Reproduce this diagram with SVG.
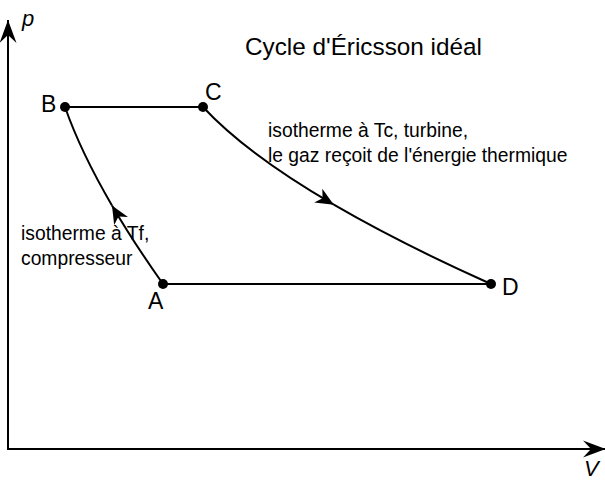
<svg xmlns="http://www.w3.org/2000/svg" width="605" height="481" viewBox="0 0 605 481">
  <style>
    .ln { fill: none; stroke: #000; stroke-width: 2; }
    .dot { fill: #000; }
    .t { font-family: "Liberation Sans", Arial, sans-serif; fill: #000; }
    .lbl { font-size: 19.3px; }
    .pt { font-size: 23px; }
    .ax { font-size: 22px; font-style: italic; }
    .title { font-size: 24.3px; }
  </style>
  <defs>
    <marker id="axArrow" viewBox="-24 -10 25 20" markerWidth="25" markerHeight="20" refX="0" refY="0" orient="auto" markerUnits="userSpaceOnUse">
      <path d="M0,0 L-23,-8.5 L-15,0 L-23,8.5 Z" fill="#000"/>
    </marker>
    <marker id="curveArrow" viewBox="-20 -10 21 20" markerWidth="21" markerHeight="20" refX="0" refY="0" orient="auto" markerUnits="userSpaceOnUse">
      <path d="M0,0 L-18,-8 L-13,0 L-18,8 Z" fill="#000"/>
    </marker>
  </defs>
  <rect width="605" height="481" fill="#fff"/>

  <g id="axes">
    <line class="ln" x1="8" y1="449" x2="8" y2="20" marker-end="url(#axArrow)"/>
    <line class="ln" x1="7" y1="449" x2="606" y2="449" marker-end="url(#axArrow)"/>
    <text class="t ax" x="22" y="26">p</text>
    <text class="t ax" x="584" y="476">V</text>
  </g>

  <g id="connectors">
    <line class="ln" x1="65" y1="107" x2="203" y2="107"/>
    <line class="ln" x1="163" y1="284" x2="491" y2="284"/>
    <path class="ln" d="M203,107 Q246.32,153.74 333.83,204.7" marker-end="url(#curveArrow)"/>
    <path class="ln" d="M333.83,204.7 Q399.84,243.15 491,284"/>
    <path class="ln" d="M163,284 Q133.73,242.59 111.98,205.38" marker-end="url(#curveArrow)"/>
    <path class="ln" d="M111.98,205.38 Q80.69,151.84 65,107"/>
  </g>

  <g id="nodeB">
    <circle class="dot" cx="65" cy="107" r="5"/>
    <text class="t pt" x="41" y="112">B</text>
  </g>
  <g id="nodeC">
    <circle class="dot" cx="203" cy="107" r="5"/>
    <text class="t pt" x="205" y="100">C</text>
  </g>
  <g id="nodeA">
    <circle class="dot" cx="163" cy="284" r="5"/>
    <text class="t pt" x="148" y="309">A</text>
  </g>
  <g id="nodeD">
    <circle class="dot" cx="491" cy="284" r="5"/>
    <text class="t pt" x="502" y="295">D</text>
  </g>

  <g id="labels">
    <text class="t title" x="245" y="55">Cycle d'Éricsson idéal</text>
    <text class="t lbl" x="268" y="137">isotherme à Tc, turbine,</text>
    <text class="t lbl" x="268" y="162">le gaz reçoit de l'énergie thermique</text>
    <text class="t lbl" x="21" y="240">isotherme à Tf,</text>
    <text class="t lbl" x="21" y="265">compresseur</text>
  </g>
</svg>
